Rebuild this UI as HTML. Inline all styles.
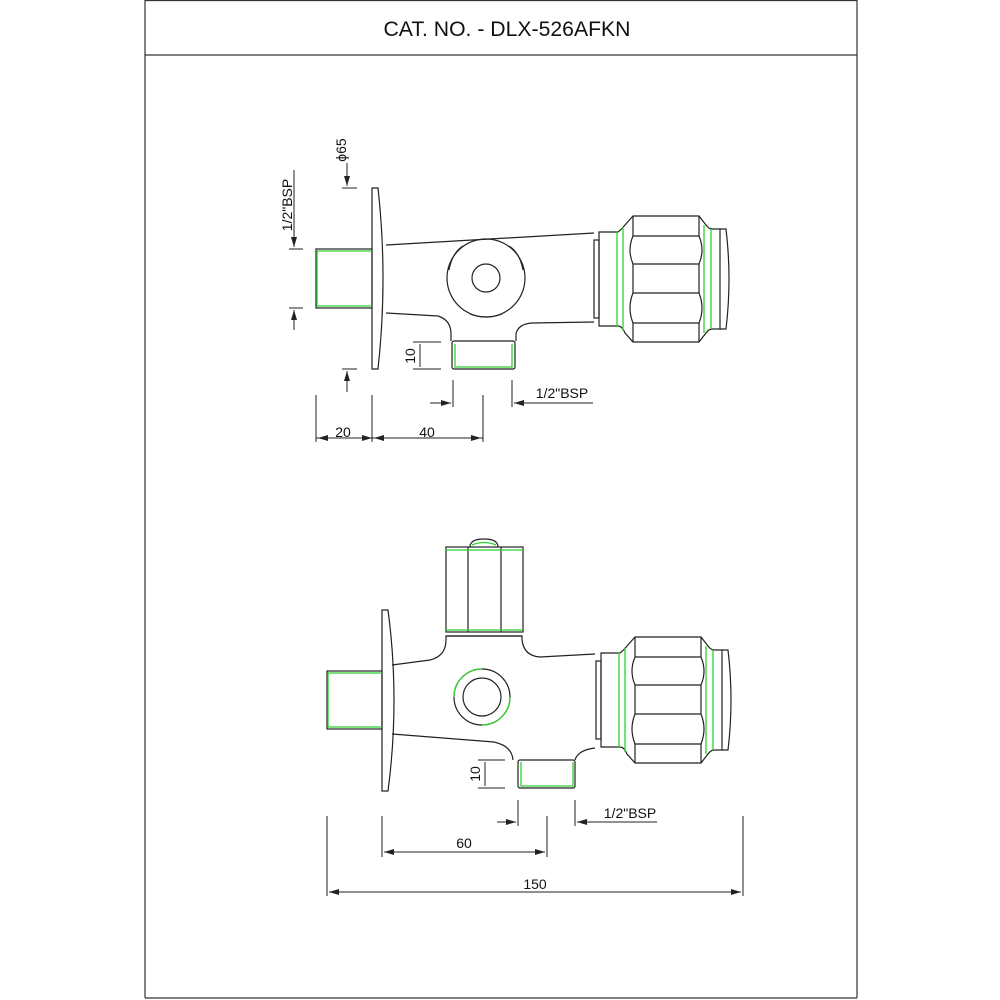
<!DOCTYPE html>
<html><head><meta charset="utf-8"><style>
html,body{margin:0;padding:0;background:#fff;width:1000px;height:1000px;overflow:hidden}
svg{display:block}
text{font-family:"Liberation Sans",sans-serif;fill:#111}
</style></head><body>
<svg width="1000" height="1000" viewBox="0 0 1000 1000" xmlns="http://www.w3.org/2000/svg">
<defs>
<marker id="a" markerWidth="10" markerHeight="6" refX="10" refY="3" orient="auto" markerUnits="userSpaceOnUse"><path d="M0,0 L10,3 L0,6 Z" fill="#222"/></marker>
<g id="nut" fill="none" stroke="#222" stroke-width="1.2">
<rect x="594" y="240" width="5" height="78"/>
<path d="M599,232 H618 Q622,229 625,225 L633,216 H699 L706,225 Q709,229 712,229 H720 V329 H712 Q709,329 706,333 L699,342 H633 L625,333 Q622,326 618,326 H599 Z"/>
<path d="M720,229 H726 Q732,279 726,329 H720"/>
<path d="M633,216 V236 Q627,250 633,264 V293 Q627,308 633,323 V342"/>
<path d="M699,216 V236 Q705,250 699,264 V293 Q705,308 699,323 V342"/>
<line x1="633" y1="236" x2="699" y2="236"/><line x1="633" y1="264" x2="699" y2="264"/>
<line x1="633" y1="293" x2="699" y2="293"/><line x1="633" y1="323" x2="699" y2="323"/>
<g stroke="#2ed22e" stroke-width="1.3"><line x1="617" y1="231" x2="617" y2="327"/><line x1="623" y1="227" x2="623" y2="331"/><line x1="704" y1="225" x2="704" y2="333"/><line x1="711" y1="229" x2="711" y2="329"/></g>
</g>
</defs>
<g fill="none" stroke="#333" stroke-width="1.2">
<line x1="145" y1="0" x2="145" y2="998"/><line x1="857" y1="0" x2="857" y2="998"/>
<line x1="145" y1="998" x2="857" y2="998"/><line x1="145" y1="55" x2="857" y2="55"/>
<line x1="145" y1="0.5" x2="857" y2="0.5"/>
</g>
<text x="507" y="36" font-size="21" text-anchor="middle" textLength="247" lengthAdjust="spacingAndGlyphs">CAT. NO. - DLX-526AFKN</text>

<!-- TOP VIEW -->
<g fill="none" stroke="#222" stroke-width="1.2">
<path d="M372,188 H378 Q388,278 378,369 H372 Z"/>
<rect x="316" y="249" width="56" height="59"/>
<path d="M386,245 L594,233"/>
<path d="M386,313 L438,316 Q451,320 451,334 V341"/>
<path d="M516,341 V334 Q518,324 532,323 L594,322"/>
<rect x="452" y="341" width="63" height="28" rx="2"/>
<circle cx="486" cy="278" r="39"/>
<circle cx="486" cy="278" r="14"/>
<path d="M449,270 Q452,253 463,246"/>
<path d="M509,246 Q520,253 523,270"/>
<path d="M470,314 Q486,320 502,314"/>
</g>
<g stroke="#2ed22e" stroke-width="1.3" fill="none">
<path d="M317,251 V306 H372"/><path d="M317,251 H372"/>
<path d="M455,344 V367 H512 V344"/>
</g>
<use href="#nut"/>

<!-- top dims -->
<g stroke="#222" stroke-width="1" fill="none">
<line x1="347" y1="163" x2="347" y2="186" marker-end="url(#a)"/>
<line x1="342" y1="188" x2="357" y2="188"/>
<line x1="347" y1="392" x2="347" y2="371" marker-end="url(#a)"/>
<line x1="342" y1="369" x2="357" y2="369"/>
<line x1="294" y1="170" x2="294" y2="247" marker-end="url(#a)"/>
<line x1="289" y1="249" x2="303" y2="249"/>
<line x1="294" y1="330" x2="294" y2="310" marker-end="url(#a)"/>
<line x1="289" y1="308" x2="303" y2="308"/>
<line x1="413" y1="342" x2="441" y2="342"/><line x1="413" y1="369" x2="441" y2="369"/>
<line x1="420" y1="344" x2="420" y2="367"/>
<line x1="316" y1="395" x2="316" y2="442"/><line x1="372" y1="395" x2="372" y2="442"/><line x1="483" y1="395" x2="483" y2="442"/>
<line x1="316" y1="438" x2="372" y2="438"/><line x1="372" y1="438" x2="483" y2="438"/>
<line x1="453" y1="380" x2="453" y2="407"/><line x1="430" y1="403" x2="451" y2="403" marker-end="url(#a)"/>
<line x1="512" y1="380" x2="512" y2="407"/><line x1="593" y1="403" x2="514" y2="403" marker-end="url(#a)"/>
</g>
<text x="343" y="437" font-size="14" text-anchor="middle">20</text>
<text x="427" y="437" font-size="14" text-anchor="middle">40</text>
<text x="562" y="398" font-size="14" text-anchor="middle">1/2"BSP</text>
<text transform="translate(346,150) rotate(-90)" font-size="14" text-anchor="middle">ϕ65</text>
<text transform="translate(292,205) rotate(-90)" font-size="14" text-anchor="middle">1/2"BSP</text>
<text transform="translate(415,356) rotate(-90)" font-size="14" text-anchor="middle">10</text>

<!-- BOTTOM VIEW -->
<g fill="none" stroke="#222" stroke-width="1.2">
<path d="M382,610 H388 Q400,700 388,791 H382 Z"/>
<rect x="327" y="671" width="55" height="58"/>
<path d="M392,665 L430,660 Q446,656 446,640 V636 H522 V640 Q524,656 540,657 L595,654"/>
<path d="M392,734 L494,742 Q512,746 513,760"/>
<path d="M575,760 Q578,750 595,748"/>
<rect x="518" y="760" width="57" height="28" rx="2"/>
<circle cx="482" cy="697" r="28"/>
<circle cx="482" cy="697" r="19"/>
<rect x="446" y="547" width="77" height="85"/>
<line x1="468" y1="547" x2="468" y2="632"/><line x1="501" y1="547" x2="501" y2="632"/>
<path d="M470,547 Q470,539 484,539 Q498,539 498,547"/>
<line x1="446" y1="636" x2="522" y2="636"/>
</g>
<g stroke="#2ed22e" stroke-width="1.3" fill="none">
<path d="M328,673 V727 H382"/><path d="M328,673 H382"/>
<path d="M521,762 V786 H573 V762"/>
<path d="M454,697 A28,28 0 0 1 482,669"/><path d="M482,725 A28,28 0 0 0 510,697"/>
<line x1="446" y1="550" x2="523" y2="550"/><line x1="446" y1="630" x2="523" y2="630"/>
<path d="M472,545 Q484,540 496,545"/>
</g>
<use href="#nut" transform="translate(2,421)"/>

<!-- bottom dims -->
<g stroke="#222" stroke-width="1" fill="none">
<line x1="478" y1="760" x2="505" y2="760"/><line x1="478" y1="788" x2="505" y2="788"/>
<line x1="485" y1="762" x2="485" y2="786"/>
<line x1="518" y1="800" x2="518" y2="826"/><line x1="497" y1="822" x2="516" y2="822" marker-end="url(#a)"/>
<line x1="575" y1="800" x2="575" y2="826"/><line x1="657" y1="822" x2="577" y2="822" marker-end="url(#a)"/>
<line x1="382" y1="816" x2="382" y2="857"/><line x1="547" y1="816" x2="547" y2="857"/>
<line x1="384" y1="852" x2="545" y2="852"/>
<line x1="327" y1="816" x2="327" y2="896"/><line x1="743" y1="816" x2="743" y2="896"/>
<line x1="329" y1="892" x2="741" y2="892"/>
</g>
<g fill="#222">
<path d="M384,852 l10,-3 v6 z"/><path d="M545,852 l-10,-3 v6 z"/>
<path d="M329,892 l10,-3 v6 z"/><path d="M741,892 l-10,-3 v6 z"/>
<path d="M372,438 l-10,-3 v6 z"/><path d="M318,438 l10,-3 v6 z"/>
<path d="M374,438 l10,-3 v6 z"/><path d="M481,438 l-10,-3 v6 z"/>
</g>
<text x="464" y="848" font-size="14" text-anchor="middle">60</text>
<text x="535" y="889" font-size="14" text-anchor="middle">150</text>
<text x="630" y="818" font-size="14" text-anchor="middle">1/2"BSP</text>
<text transform="translate(480,774) rotate(-90)" font-size="14" text-anchor="middle">10</text>
</svg>
</body></html>
